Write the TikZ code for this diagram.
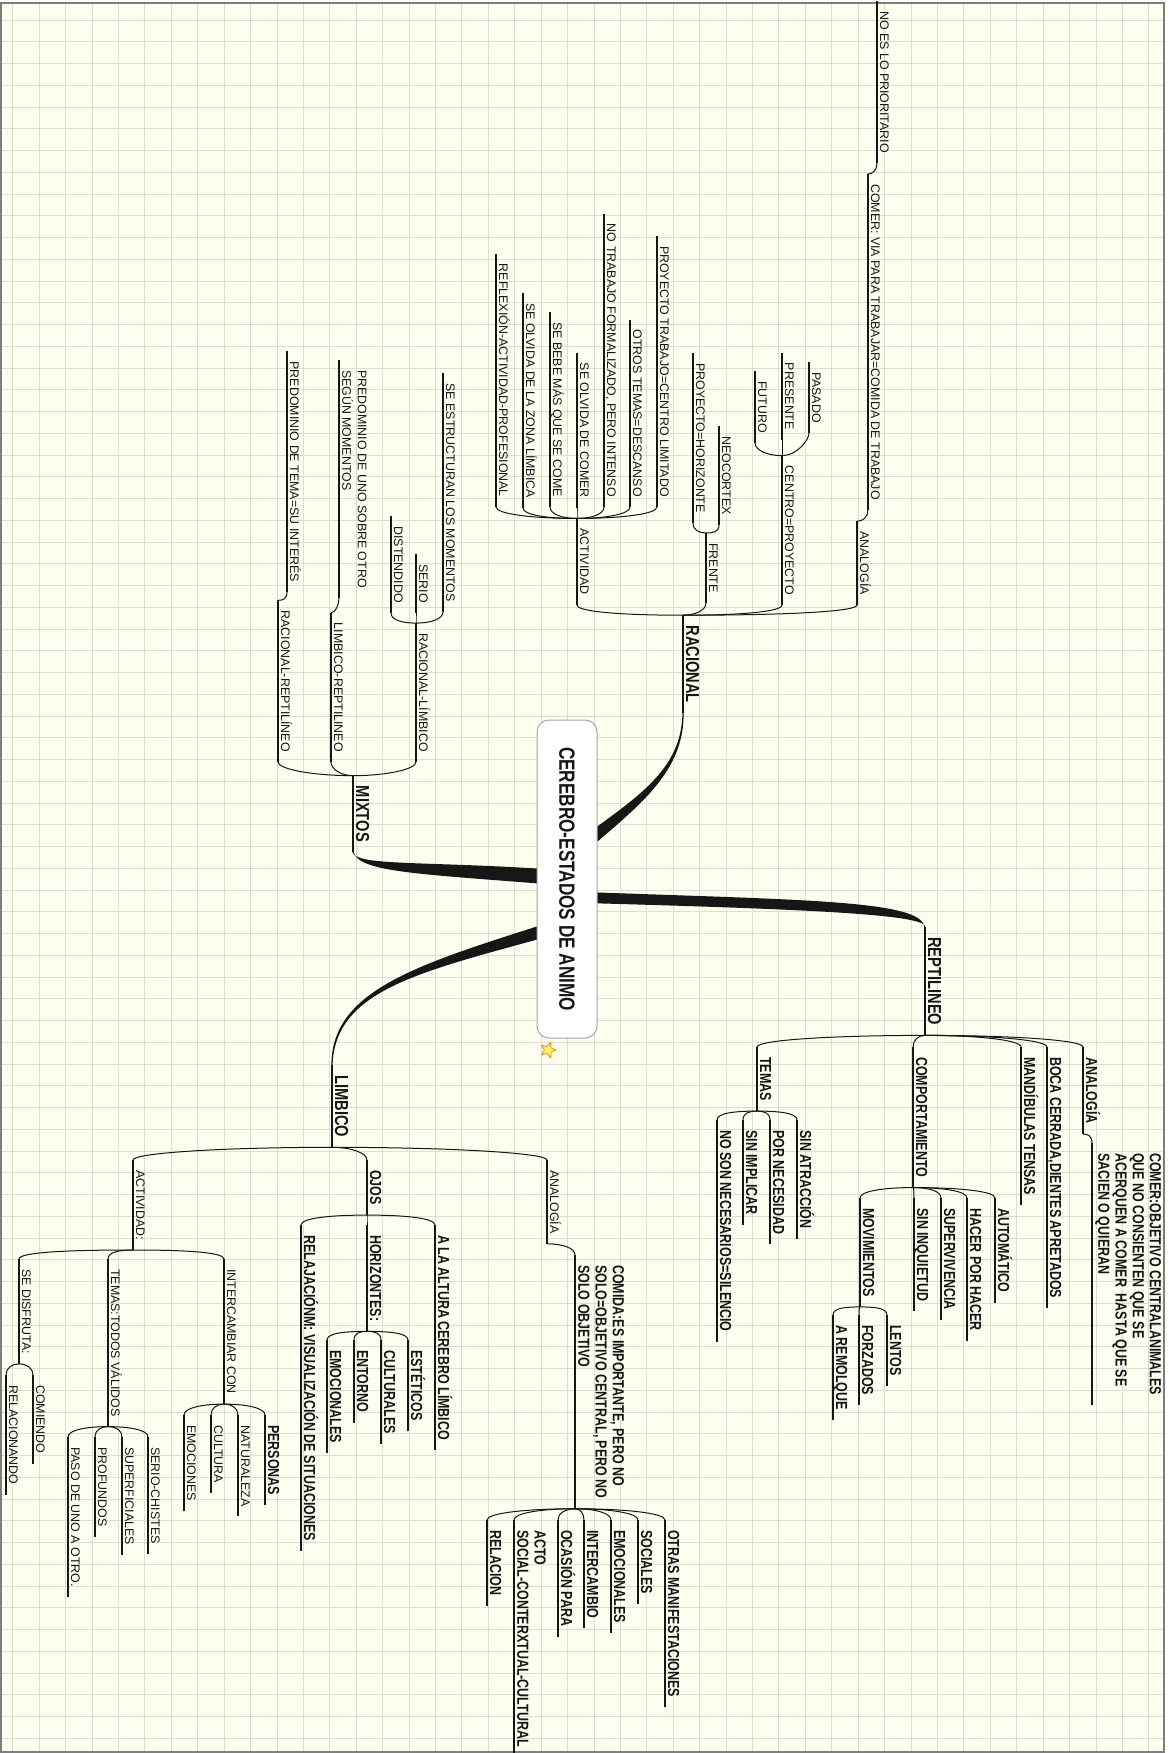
\documentclass[tikz,border=0pt]{standalone}
\usepackage{fontspec}
\setmainfont{Liberation Sans}
\newfontfamily\narrowbf{Liberation Sans}[FakeStretch=0.78]
\usetikzlibrary{calc,shapes.geometric}
\definecolor{paper}{RGB}{253,253,240}
\definecolor{gridline}{RGB}{220,222,210}
\definecolor{framegray}{RGB}{125,125,125}
\definecolor{ink}{RGB}{22,22,22}
\newcommand{\regf}{\fontsize{12.4}{15.5}\selectfont}
\newcommand{\bsmall}{\narrowbf\bfseries\fontsize{16}{17.2}\selectfont}
\newcommand{\bmajor}{\narrowbf\bfseries\fontsize{18.8}{20}\selectfont}
\newcommand{\broot}{\narrowbf\bfseries\fontsize{22}{24}\selectfont}
\tikzset{
  lblbase/.style={rotate=-90, inner xsep=10pt, inner ysep=3pt, text=ink},
  lbl/.style={lblbase, text depth=0pt, font=\regf},
  lblb/.style={lblbase, text depth=0pt, font=\bsmall},
  lblm/.style={lblbase, text depth=0pt, font=\bmajor},
  lblmulti/.style={lblbase, align=left, font=\regf},
  lblbmulti/.style={lblbase, align=left, font=\bsmall},
  up/.style={anchor=south east},
  dn/.style={anchor=south west},
  uline/.style={draw=ink, line width=1.1pt},
  fan/.style={draw=ink, line width=1pt},
  fanup/.style={to path={.. controls ($(\tikztostart)!.55!(\tikztotarget|-\tikztostart)$) and ($(\tikztotarget)+(0,7)$) .. (\tikztotarget)}},
  fandn/.style={to path={.. controls ($(\tikztostart)!.55!(\tikztotarget|-\tikztostart)$) and ($(\tikztotarget)+(0,-7)$) .. (\tikztotarget)}},
  limb/.style={fill=ink},
  hubbox/.style={rotate=-90, draw=gray!70, fill=white, line width=1pt, rounded corners=12pt, minimum width=318pt, minimum height=60pt, font=\broot, text=ink},
}

\begin{document}
\begin{tikzpicture}[x=1pt, y=-1pt]
  \useasboundingbox (0,0) rectangle (1173,1753);
  % paper and grid
  \fill[white] (0,0) rectangle (1173,1753);
  \fill[paper] (1,3) rectangle (1164,1752);
  \foreach \gx in {0,...,43}
    \draw[gridline, line width=0.8pt] ({12.7+26.42*\gx},3) -- ({12.7+26.42*\gx},1752);
  \foreach \gy in {0,...,79}
    \draw[gridline, line width=0.8pt] (1,{20+21.75*\gy}) -- (1164,{20+21.75*\gy});
  \draw[framegray, line width=1.2pt] (1,3) rectangle (1164,1752);

  \coordinate (hub) at (567,879);

  % RACIONAL branch
  \node[lblm, up] (racional) at (683,713) {RACIONAL};
  \node[lbl, up] (analogiaR) at (857,605) {ANALOGÍA};
  \node[lbl, up] (comerR) at (868,510) {COMER: VIA PARA TRABAJAR=COMIDA DE TRABAJO};
  \node[lbl, up] (prioritario) at (877,163) {NO ES LO PRIORITARIO};
  \node[lbl, up] (centro) at (782,605) {CENTRO=PROYECTO};
  \node[lbl, up] (pasado) at (809,433) {PASADO};
  \node[lbl, up] (presente) at (782,440) {PRESENTE};
  \node[lbl, up] (futuro) at (755,443) {FUTURO};
  \node[lbl, up] (frente) at (706,603) {FRENTE};
  \node[lbl, up] (neocortex) at (719,525) {NEOCORTEX};
  \node[lbl, up] (horizonteR) at (693,523) {PROYECTO=HORIZONTE};
  \node[lbl, up] (actividadR) at (577,605) {ACTIVIDAD};
  \node[lbl, up] (limitado) at (657,507) {PROYECTO TRABAJO=CENTRO LIMITADO};
  \node[lbl, up] (descanso) at (630,507) {OTROS TEMAS=DESCANSO};
  \node[lbl, up] (intenso) at (604,507) {NO TRABAJO FORMALIZADO, PERO INTENSO};
  \node[lbl, up] (olvidaComer) at (577,508) {SE OLVIDA DE COMER};
  \node[lbl, up] (bebe) at (550,507) {SE BEBE MÁS QUE SE COME};
  \node[lbl, up] (zona) at (523,508) {SE OLVIDA DE LA ZONA LÍMBICA};
  \node[lbl, up] (reflexion) at (496,507) {REFLEXIÓN-ACTIVIDAD-PROFESIONAL};

  % MIXTOS branch
  \node[lblm, up] (mixtos) at (353,852) {MIXTOS};
  \node[lbl, up] (racLim) at (416,762) {RACIONAL-LÍMBICO};
  \node[lbl, up] (estructuran) at (443,612) {SE ESTRUCTURAN LOS MOMENTOS};
  \node[lbl, up] (serio) at (416,613) {SERIO};
  \node[lbl, up] (distendido) at (391,613) {DISTENDIDO};
  \node[lbl, up] (limRep) at (331,762) {LIMBICO-REPTILINEO};
  \node[lblmulti, up] (predUno) at (339,598) {PREDOMINIO DE UNO SOBRE OTRO\\SEGÚN MOMENTOS};
  \node[lbl, up] (racRep) at (278,762) {RACIONAL-REPTILÍNEO};
  \node[lbl, up] (predTema) at (287,592) {PREDOMINIO DE TEMA=SU INTERÉS};

  % LIMBICO branch
  \node[lblm, dn] (limbico) at (332,1065) {LIMBICO};
  \node[lbl, dn] (actividadL) at (133,1160) {ACTIVIDAD:};
  \node[lbl, dn] (disfruta) at (19,1259) {SE DISFRUTA:};
  \node[lbl, dn] (comiendo) at (33,1375) {COMIENDO};
  \node[lbl, dn] (relacionando) at (6,1375) {RELACIONANDO};
  \node[lbl, dn] (todos) at (108,1259) {TEMAS:TODOS VÁLIDOS};
  \node[lbl, dn] (chistes) at (148,1437) {SERIO-CHISTES};
  \node[lbl, dn] (superficiales) at (122,1437) {SUPERFICIALES};
  \node[lbl, dn] (profundos) at (95,1437) {PROFUNDOS};
  \node[lbl, dn] (paso) at (68,1437) {PASO DE UNO A OTRO.};
  \node[lbl, dn] (intercambiar) at (224,1259) {INTERCAMBIAR CON};
  \node[lblb, dn] (personas) at (265,1415) {PERSONAS};
  \node[lbl, dn] (naturaleza) at (238,1415) {NATURALEZA};
  \node[lbl, dn] (cultura) at (211,1415) {CULTURA};
  \node[lbl, dn] (emociones) at (184,1415) {EMOCIONES};
  \node[lblb, dn] (ojos) at (367,1160) {OJOS};
  \node[lblb, dn] (relajacion) at (301,1225) {RELAJACIÓNM: VISUALIZACIÓN DE SITUACIONES};
  \node[lblb, dn] (horizontes) at (367,1225) {HORIZONTES:};
  \node[lblb, dn] (esteticos) at (408,1340) {ESTÉTICOS};
  \node[lblb, dn] (culturales) at (381,1340) {CULTURALES};
  \node[lblb, dn] (entorno) at (354,1340) {ENTORNO};
  \node[lblb, dn] (emocionalesO) at (327,1340) {EMOCIONALES};
  \node[lblb, dn] (altura) at (435,1225) {A LA ALTURA CEREBRO LÍMBICO};
  \node[lbl, dn] (analogiaL) at (547,1160) {ANALOGÍA};
  \node[lblbmulti, dn] (comida) at (575,1255) {COMIDA:ES IMPORTANTE, PERO NO\\SOLO=OBJETIVO CENTRAL, PERO NO\\SOLO OBJETIVO};
  \node[lblb, dn] (otras) at (665,1520) {OTRAS MANIFESTACIONES};
  \node[lblb, dn] (sociales) at (638,1520) {SOCIALES};
  \node[lblb, dn] (emocionalesA) at (611,1520) {EMOCIONALES};
  \node[lblb, dn] (intercambio) at (584,1520) {INTERCAMBIO};
  \node[lblb, dn] (ocasion) at (558,1520) {OCASIÓN PARA};
  \node[lblbmulti, dn] (acto) at (514,1520) {ACTO\\SOCIAL-CONTERXTUAL-CULTURAL};
  \node[lblb, dn] (relacion) at (487,1520) {RELACION};

  % REPTILINEO branch
  \node[lblm, dn] (reptilineo) at (925,927) {REPTILINEO};
  \node[lblb, dn] (analogiaP) at (1083,1047) {ANALOGÍA};
  \node[lblbmulti, dn] (comerP) at (1092,1143) {COMER:OBJETIVO CENTRALANIMALES\\QUE NO CONSIENTEN QUE SE\\ACERQUEN A COMER~ HASTA QUE SE\\SACIEN O QUIERAN};
  \node[lblb, dn] (boca) at (1047,1047) {BOCA CERRADA,DIENTES APRETADOS};
  \node[lblb, dn] (mandibulas) at (1021,1047) {MANDÍBULAS TENSAS};
  \node[lblb, dn] (comportamiento) at (913,1047) {COMPORTAMIENTO};
  \node[lblb, dn] (automatico) at (995,1198) {AUTOMÁTICO};
  \node[lblb, dn] (hacer) at (967,1198) {HACER POR HACER};
  \node[lblb, dn] (supervivencia) at (941,1198) {SUPERVIVENCIA};
  \node[lblb, dn] (inquietud) at (914,1198) {SIN INQUIETUD};
  \node[lblb, dn] (movimientos) at (860,1198) {MOVIMIENTOS};
  \node[lblb, dn] (lentos) at (887,1315) {LENTOS};
  \node[lblb, dn] (forzados) at (859,1315) {FORZADOS};
  \node[lblb, dn] (remolque) at (833,1315) {A REMOLQUE};
  \node[lblb, dn] (temas) at (757,1047) {TEMAS};
  \node[lblb, dn] (atraccion) at (797,1120) {SIN ATRACCIÓN};
  \node[lblb, dn] (necesidad) at (770,1120) {POR NECESIDAD};
  \node[lblb, dn] (implicar) at (743,1120) {SIN IMPLICAR};
  \node[lblb, dn] (silencio) at (717,1120) {NO SON NECESARIOS=SILENCIO};

  % underlines
  \foreach \n in {racional,analogiaR,comerR,prioritario,centro,pasado,presente,futuro,frente,neocortex,horizonteR,
      actividadR,limitado,descanso,intenso,olvidaComer,bebe,zona,reflexion,
      mixtos,racLim,estructuran,serio,distendido,limRep,predUno,racRep,predTema,
      limbico,actividadL,disfruta,comiendo,relacionando,todos,chistes,superficiales,profundos,paso,
      intercambiar,personas,naturaleza,cultura,emociones,ojos,relajacion,horizontes,esteticos,culturales,
      entorno,emocionalesO,altura,analogiaL,comida,otras,sociales,emocionalesA,intercambio,ocasion,acto,relacion,
      reptilineo,analogiaP,comerP,boca,mandibulas,comportamiento,automatico,hacer,supervivencia,inquietud,
      movimientos,lentos,forzados,remolque,temas,atraccion,necesidad,implicar,silencio}
    \draw[uline] (\n.south west) -- (\n.south east);

  % branches above the centre
  \foreach \p/\c in {racional/analogiaR,racional/centro,racional/frente,racional/actividadR,
      analogiaR/comerR,comerR/prioritario,centro/pasado,centro/presente,centro/futuro,
      frente/neocortex,frente/horizonteR,
      actividadR/limitado,actividadR/descanso,actividadR/intenso,actividadR/olvidaComer,
      actividadR/bebe,actividadR/zona,actividadR/reflexion,
      mixtos/racLim,mixtos/limRep,mixtos/racRep,
      racLim/estructuran,racLim/serio,racLim/distendido,limRep/predUno,racRep/predTema}
    \draw[fan] (\p.south west) to[fanup] (\c.south east);

  % branches below the centre
  \foreach \p/\c in {limbico/actividadL,limbico/ojos,limbico/analogiaL,
      actividadL/disfruta,actividadL/todos,actividadL/intercambiar,
      disfruta/comiendo,disfruta/relacionando,
      todos/chistes,todos/superficiales,todos/profundos,todos/paso,
      intercambiar/personas,intercambiar/naturaleza,intercambiar/cultura,intercambiar/emociones,
      ojos/relajacion,ojos/horizontes,ojos/altura,
      horizontes/esteticos,horizontes/culturales,horizontes/entorno,horizontes/emocionalesO,
      analogiaL/comida,
      comida/otras,comida/sociales,comida/emocionalesA,comida/intercambio,comida/ocasion,comida/acto,comida/relacion,
      reptilineo/analogiaP,reptilineo/boca,reptilineo/mandibulas,reptilineo/comportamiento,reptilineo/temas,
      analogiaP/comerP,
      comportamiento/automatico,comportamiento/hacer,comportamiento/supervivencia,comportamiento/inquietud,comportamiento/movimientos,
      movimientos/lentos,movimientos/forzados,movimientos/remolque,
      temas/atraccion,temas/necesidad,temas/implicar,temas/silencio}
    \draw[fan] (\p.south east) to[fandn] (\c.south west);

  % thick limbs from the centre
  \fill[limb] ($(hub)+(16,-42)$) .. controls (637,797) and (681.8,770) .. ($(racional.south east)+(-0.6,0)$)
    -- ($(racional.south east)+(0.6,0)$) .. controls (684.2,770) and (642.5,803) .. ($(hub)+(24,-32)$) -- cycle;
  \fill[limb] ($(hub)+(18,13)$) .. controls (800,900) and (922,900) .. ($(reptilineo.south west)+(-0.6,0)$)
    -- ($(reptilineo.south west)+(0.6,0)$) .. controls (926,914) and (800,909) .. ($(hub)+(18,24)$) -- cycle;
  \fill[limb] ($(hub)+(-22,-10)$) .. controls (420,861) and (356,866) .. ($(mixtos.south east)+(-0.6,0)$)
    -- ($(mixtos.south east)+(0.6,0)$) .. controls (358,872) and (420,874) .. ($(hub)+(-22,5)$) -- cycle;
  \fill[limb] ($(hub)+(-24,45.5)$) .. controls (418.9,964.3) and (331.4,990) .. ($(limbico.south west)+(-0.6,0)$)
    -- ($(limbico.south west)+(0.6,0)$) .. controls (334.6,990) and (421.1,971.7) .. ($(hub)+(-20.4,57.9)$) -- cycle;

  % central topic
  \node[hubbox] (root) at (hub) {CEREBRO-ESTADOS DE ANIMO};
  \node[star, star points=5, star point ratio=2.2, minimum size=16pt, inner sep=0pt, rotate=-90,
    fill=yellow!60, draw=orange!80!brown, line width=0.7pt] (starmark) at (548,1050) {};
\end{tikzpicture}
\end{document}
